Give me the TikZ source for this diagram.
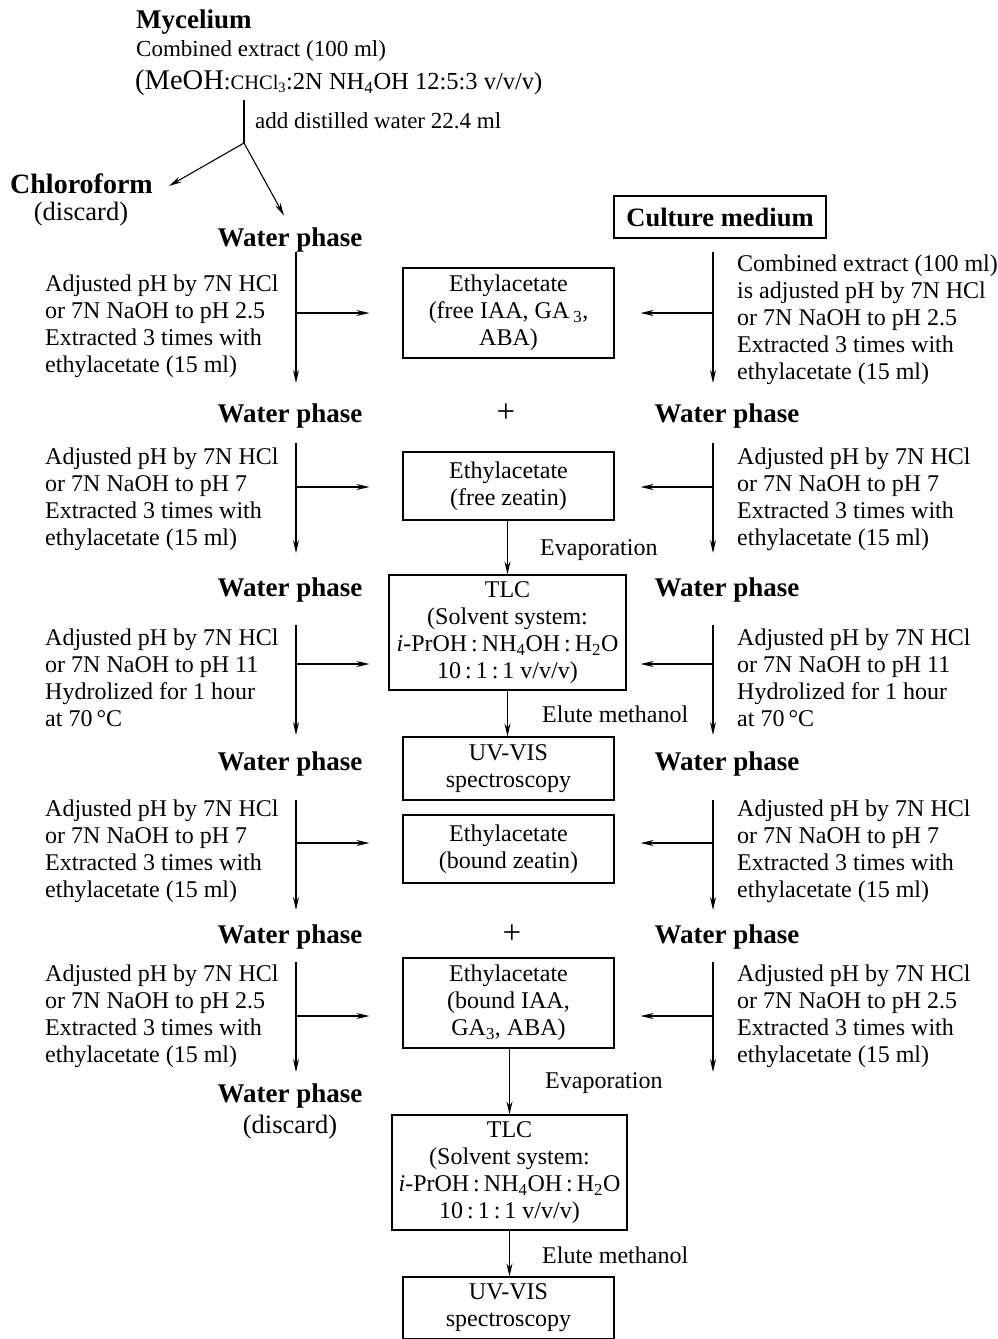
\documentclass[tikz,border=0pt]{standalone}
\usepackage{fontspec}
\setmainfont{Liberation Serif}
\usetikzlibrary{arrows.meta,calc}
\begin{document}
\begin{tikzpicture}[x=1pt,y=-1pt,
 txt/.style={inner sep=0pt, align=left, anchor=west, font=\fontsize{24}{27}\selectfont},
 ctxt/.style={inner sep=0pt, align=center, font=\fontsize{24}{27}\selectfont},
 hd/.style={inner sep=0pt, font=\fontsize{27}{28}\selectfont\bfseries},
 box/.style={draw, line width=1.1pt, inner sep=0pt, align=center, font=\fontsize{24}{27}\selectfont},
 arr/.style={line width=1.1pt, -{Stealth[length=13pt,width=6pt]}},
 ln/.style={line width=1.1pt},
 plus/.style={inner sep=0pt, font=\fontsize{33}{33}\selectfont}]
\useasboundingbox (0,0) rectangle (997,1339);

% ---------- top ----------
\node[hd, anchor=west] (myc) at (136,22) {Mycelium};
\node[txt, font=\fontsize{23}{27}\selectfont] (comb) at (136,51) {Combined extract (100 ml)};
\node[txt, font=\fontsize{24.5}{27}\selectfont] (meoh) at (135,83) {{\fontsize{28.5}{29}\selectfont(MeOH}:{\fontsize{20.5}{24}\selectfont CHCl\textsubscript{3}}:2N NH\textsubscript{4}OH 12:5:3 v/v/v)};
\coordinate (s0) at (244,100);
\coordinate (split) at (244,143);
\draw[ln] (s0) -- (split);
\node[txt, font=\fontsize{23}{27}\selectfont] (addw) at (255,121) {add distilled water 22.4 ml};
\node[hd, anchor=west, font=\fontsize{28}{28}\selectfont\bfseries] (chl) at (10,184) {Chloroform};
\node[ctxt, font=\fontsize{26.5}{28}\selectfont] (disc1) at (81,214) {(discard)};
\node[hd] (w1L) at (290,240) {Water phase};
\draw[arr] (split) -- ([shift={(16pt,-2pt)}]chl.east);
\draw[arr] (split) -- ([shift={(-6pt,12pt)}]w1L.north);

\node[box, font=\fontsize{26.5}{28}\selectfont\bfseries, minimum width=212pt, minimum height=42pt] (cm) at (720,217) {Culture medium};

% ---------- row A ----------
\node[txt] (tA1) at (45,326) {Adjusted pH by 7N HCl\\or 7N NaOH to pH 2.5\\Extracted 3 times with\\ethylacetate (15 ml)};
\node[txt] (tA2) at (737,320) {Combined extract (100 ml)\\is adjusted pH by 7N HCl\\or 7N NaOH to pH 2.5\\Extracted 3 times with\\ethylacetate (15 ml)};
\node[box, minimum width=211pt, minimum height=90pt] (b1) at (508.5,313) {Ethylacetate\\(free IAA, GA\,\textsubscript{3},\\ABA)};
\coordinate (LAs) at (296,252); \coordinate (LAe) at (296,383); \coordinate (LAh) at (296,313);
\coordinate (RAs) at (713,252); \coordinate (RAe) at (713,383); \coordinate (RAh) at (713,313);
\draw[arr] (LAs) -- (LAe);
\draw[arr] (RAs) -- (RAe);
\draw[arr, shorten >=33pt] (LAh) -- (LAh -| b1.west);
\draw[arr, shorten >=26pt] (RAh) -- (RAh -| b1.east);

% ---------- row B ----------
\node[hd] (w2L) at (290,416) {Water phase};
\node[plus] (plus1) at (506,413) {+};
\node[hd] (w2R) at (727,416) {Water phase};
\node[txt] (tB1) at (45,499) {Adjusted pH by 7N HCl\\or 7N NaOH to pH 7\\Extracted 3 times with\\ethylacetate (15 ml)};
\node[txt] (tB2) at (737,499) {Adjusted pH by 7N HCl\\or 7N NaOH to pH 7\\Extracted 3 times with\\ethylacetate (15 ml)};
\node[box, minimum width=211pt, minimum height=68pt] (b2) at (508.5,486) {Ethylacetate\\(free zeatin)};
\coordinate (LBs) at (296,443); \coordinate (LBe) at (296,553); \coordinate (LBh) at (296,487);
\coordinate (RBs) at (713,443); \coordinate (RBe) at (713,553); \coordinate (RBh) at (713,487);
\draw[arr] (LBs) -- (LBe);
\draw[arr] (RBs) -- (RBe);
\draw[arr, shorten >=33pt] (LBh) -- (LBh -| b2.west);
\draw[arr, shorten >=26pt] (RBh) -- (RBh -| b2.east);

% ---------- row C ----------
\node[hd] (w3L) at (290,590) {Water phase};
\node[hd] (w3R) at (727,590) {Water phase};
\node[box, minimum width=237pt, minimum height=115pt] (tlc1) at (507.5,632.5) {TLC\\(Solvent system:\\\textit{i}-PrOH\,:\,NH\textsubscript{4}OH\,:\,H\textsubscript{2}O\\10\,:\,1\,:\,1 v/v/v)};
\draw[arr] (b2.south -| tlc1.north) -- (tlc1.north);
\node[txt] (evap1) at (540,550) {Evaporation};
\node[txt] (tC1) at (45,677.5) {Adjusted pH by 7N HCl\\or 7N NaOH to pH 11\\Hydrolized for 1 hour\\at 70\,°C};
\node[txt] (tC2) at (737,677.5) {Adjusted pH by 7N HCl\\or 7N NaOH to pH 11\\Hydrolized for 1 hour\\at 70\,°C};
\coordinate (LCs) at (296,625); \coordinate (LCe) at (296,735); \coordinate (LCh) at (296,664);
\coordinate (RCs) at (713,625); \coordinate (RCe) at (713,735); \coordinate (RCh) at (713,664);
\draw[arr] (LCs) -- (LCe);
\draw[arr] (RCs) -- (RCe);
\draw[arr, shorten >=19pt] (LCh) -- (LCh -| tlc1.west);
\draw[arr, shorten >=14pt] (RCh) -- (RCh -| tlc1.east);

\node[box, minimum width=211pt, minimum height=63pt] (uv1) at (508.5,768.5) {UV-VIS\\spectroscopy};
\draw[arr] (tlc1.south) -- (tlc1.south |- uv1.north);
\node[txt] (el1) at (542,714) {Elute methanol};

% ---------- row D ----------
\node[hd] (w4L) at (290,764) {Water phase};
\node[hd] (w4R) at (727,764) {Water phase};
\node[txt] (tD1) at (45,851) {Adjusted pH by 7N HCl\\or 7N NaOH to pH 7\\Extracted 3 times with\\ethylacetate (15 ml)};
\node[txt] (tD2) at (737,851) {Adjusted pH by 7N HCl\\or 7N NaOH to pH 7\\Extracted 3 times with\\ethylacetate (15 ml)};
\node[box, minimum width=211pt, minimum height=68pt] (b3) at (508.5,849) {Ethylacetate\\(bound zeatin)};
\coordinate (LDs) at (296,800); \coordinate (LDe) at (296,910); \coordinate (LDh) at (296,843);
\coordinate (RDs) at (713,800); \coordinate (RDe) at (713,910); \coordinate (RDh) at (713,843);
\draw[arr] (LDs) -- (LDe);
\draw[arr] (RDs) -- (RDe);
\draw[arr, shorten >=33pt] (LDh) -- (LDh -| b3.west);
\draw[arr, shorten >=26pt] (RDh) -- (RDh -| b3.east);

% ---------- row E ----------
\node[hd] (w5L) at (290,937) {Water phase};
\node[plus] (plus2) at (512,934) {+};
\node[hd] (w5R) at (727,937) {Water phase};
\node[txt] (tE1) at (45,1016) {Adjusted pH by 7N HCl\\or 7N NaOH to pH 2.5\\Extracted 3 times with\\ethylacetate (15 ml)};
\node[txt] (tE2) at (737,1016) {Adjusted pH by 7N HCl\\or 7N NaOH to pH 2.5\\Extracted 3 times with\\ethylacetate (15 ml)};
\node[box, minimum width=211pt, minimum height=90pt] (b4) at (508.5,1003) {Ethylacetate\\(bound IAA,\\GA\textsubscript{3}, ABA)};
\coordinate (LEs) at (296,962); \coordinate (LEe) at (296,1072); \coordinate (LEh) at (296,1016);
\coordinate (REs) at (713,962); \coordinate (REe) at (713,1072); \coordinate (REh) at (713,1016);
\draw[arr] (LEs) -- (LEe);
\draw[arr] (REs) -- (REe);
\draw[arr, shorten >=33pt] (LEh) -- (LEh -| b4.west);
\draw[arr, shorten >=26pt] (REh) -- (REh -| b4.east);

\node[hd] (w6L) at (290,1096) {Water phase};
\node[ctxt, font=\fontsize{26.5}{28}\selectfont] (disc2) at (290,1127) {(discard)};

% ---------- bottom ----------
\node[box, minimum width=235pt, minimum height=115pt] (tlc2) at (509.5,1172.5) {TLC\\(Solvent system:\\\textit{i}-PrOH\,:\,NH\textsubscript{4}OH\,:\,H\textsubscript{2}O\\10\,:\,1\,:\,1 v/v/v)};
\draw[arr] (tlc2.north |- b4.south) -- (tlc2.north);
\node[txt] (evap2) at (545,1083) {Evaporation};
\node[box, minimum width=211pt, minimum height=62pt] (uv2) at (508.5,1308) {UV-VIS\\spectroscopy};
\draw[arr] (tlc2.south) -- (tlc2.south |- uv2.north);
\node[txt] (el2) at (542,1255) {Elute methanol};
\end{tikzpicture}
\end{document}
